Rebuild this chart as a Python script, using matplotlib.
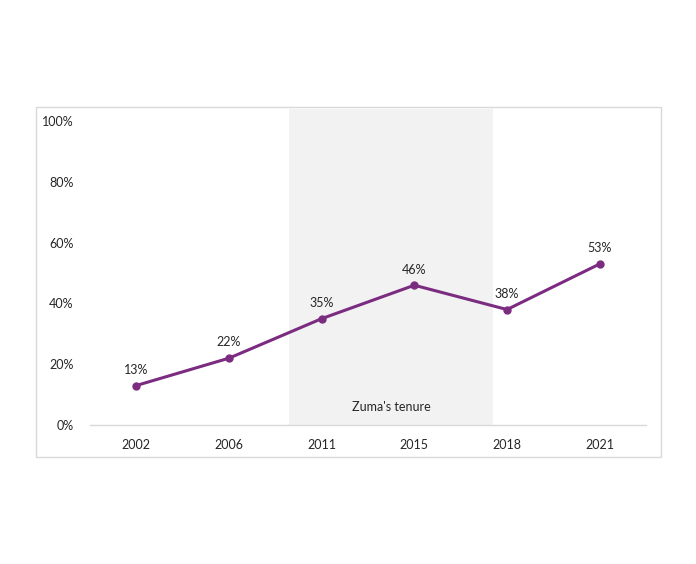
import matplotlib.pyplot as plt
from matplotlib.patches import Rectangle

# Data
years = ['2002', '2006', '2011', '2015', '2018', '2021']
share = [13, 22, 35, 46, 38, 53]
y_ticks = [0, 20, 40, 60, 80, 100]

# Zuma's tenure shading, in category units
tenure_start = 1.65
tenure_end = 3.85

purple = '#7B2C80'
plt.rcParams['font.family'] = ['Lato', 'DejaVu Sans']

fig = plt.figure(figsize=(6.96, 5.64), dpi=100)
fig.patch.set_facecolor('white')

# outer frame
fig.patches.append(Rectangle((36 / 696, 1 - 457 / 564), 625 / 696, 350 / 564,
                             transform=fig.transFigure, fill=False,
                             edgecolor='#D9D9D9', linewidth=1))

ax = fig.add_axes([90 / 696, 1 - 425 / 564, 556 / 696, 316 / 564])
x = list(range(len(years)))

ax.axvspan(tenure_start, tenure_end, color='#F2F2F2', zorder=0, linewidth=0)
ax.text((tenure_start + tenure_end) / 2, 5.9, "Zuma's tenure", ha='center', va='center',
        fontsize=9, color='#262626')

ax.plot(x, share, color=purple, linewidth=2.2, marker='o', markersize=5, zorder=3)
for xi, v in zip(x, share):
    ax.annotate(f'{v}%', (xi, v), xytext=(0, 7), textcoords='offset points',
                ha='center', va='bottom', fontsize=9, color='#262626')

ax.set_xlim(-0.5, 5.5)
ax.set_ylim(0, 104)
ax.set_xticks(x)
ax.set_xticklabels(years)
ax.set_yticks(y_ticks)
ax.set_yticklabels([f'{t}%' for t in y_ticks])
ax.tick_params(axis='both', length=0, labelsize=9, labelcolor='#262626')
ax.tick_params(axis='x', pad=10)
ax.tick_params(axis='y', pad=12)

for s in ['top', 'right', 'left']:
    ax.spines[s].set_visible(False)
ax.spines['bottom'].set_color('#D9D9D9')
ax.spines['bottom'].set_linewidth(1)

fig.savefig('out.png', dpi=100, facecolor='white')
